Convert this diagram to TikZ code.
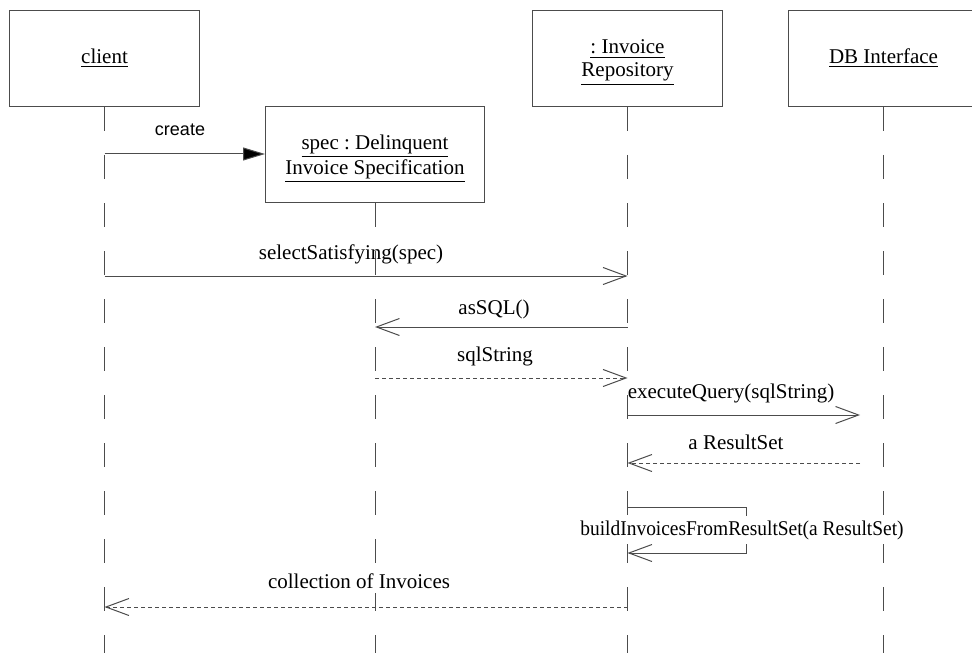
\documentclass[tikz,border=0pt]{standalone}
\usepackage{fontspec}
\setmainfont{Liberation Serif}
\newfontfamily\arialfont{Liberation Sans}
\usetikzlibrary{arrows.meta,positioning}
\frenchspacing

\begin{document}
\begin{tikzpicture}[x=0.5pt,y=-0.5pt,
  font=\fontsize{10.5}{11.5}\selectfont,
  obj/.style={draw=black!70,line width=0.5pt,minimum width=95pt,minimum height=48pt,
              inner sep=0pt,align=center,anchor=north west},
  lifeline/.style={draw=black!70,line width=0.5pt,dash pattern=on 12pt off 12pt},
  call/.style={draw=black!70,line width=0.5pt,-{Straight Barb[length=11.5pt,width=8.5pt]}},
  reply/.style={call,dash pattern=on 2pt off 1.5pt},
  create/.style={draw=black!70,line width=0.5pt,-{Triangle[length=11pt,width=6.5pt,fill=black]}},
  lbl/.style={inner sep=0pt}]
  \useasboundingbox (0,0) rectangle (972,652);
  \node[obj] (client) at (9,10) {\underline{client}};
  \node[obj,minimum width=109.5pt,text depth=0pt] (spec) at (265,106)
    {\underline{spec : Delinquent}\\\underline{Invoice Specification}};
  \node[obj,text depth=0pt] (repo) at (532,10) {\underline{: Invoice}\\\underline{Repository}};
  \node[obj] (db) at (788,10) {\underline{DB Interface}};
  \draw[lifeline] (client.south) -- (client.south |- 0,660);
  \draw[lifeline] (spec.south) -- (spec.south |- 0,660);
  \draw[lifeline] (repo.south) -- (repo.south |- 0,660);
  \draw[lifeline] (db.south) -- (db.south |- 0,660);
  \coordinate (m0) at (0,154);
  \coordinate (m1) at (0,276);
  \coordinate (m2) at (0,327);
  \coordinate (m3) at (0,378);
  \coordinate (m4) at (0,415);
  \coordinate (m5) at (0,463);
  \coordinate (m6) at (746,507);
  \coordinate (m6b) at (746,553);
  \coordinate (m7) at (0,607);
  \coordinate (dbend) at (860,0);
  \draw[create] (client |- m0) -- (spec.west |- m0);
  \draw[call] (client |- m1) -- (repo |- m1);
  \draw[call] (repo |- m2) -- (spec |- m2);
  \draw[reply] (spec |- m3) -- (repo |- m3);
  \draw[call] (repo |- m4) -- (dbend |- m4);
  \draw[reply] (dbend |- m5) -- (repo |- m5);
  \draw[call] (repo |- m6) -- (m6) -- (m6b) -- (repo |- m6b);
  \draw[reply] (repo |- m7) -- (client |- m7);
  \node[lbl,font=\arialfont\fontsize{9}{11}\selectfont] (lcreate) at (180,130) {create};
  \node[lbl] (lselect) at (351,254) {selectSatisfying(spec)};
  \node[lbl] (lsql) at (494,309) {asSQL()};
  \node[lbl] (lstring) at (495,356) {sqlString};
  \node[lbl] (lquery) at (731,393) {executeQuery(sqlString)};
  \node[lbl] (lresult) at (736,442) {a ResultSet};
  \node[lbl,fill=white,inner ysep=2pt] (lbuild) at (742,530)
    {\scalebox{0.925}[1]{buildInvoicesFromResultSet(a ResultSet)}};
  \node[lbl,fill=white,inner ysep=2pt] (lcoll) at (359,581) {collection of Invoices};
\end{tikzpicture}
\end{document}
